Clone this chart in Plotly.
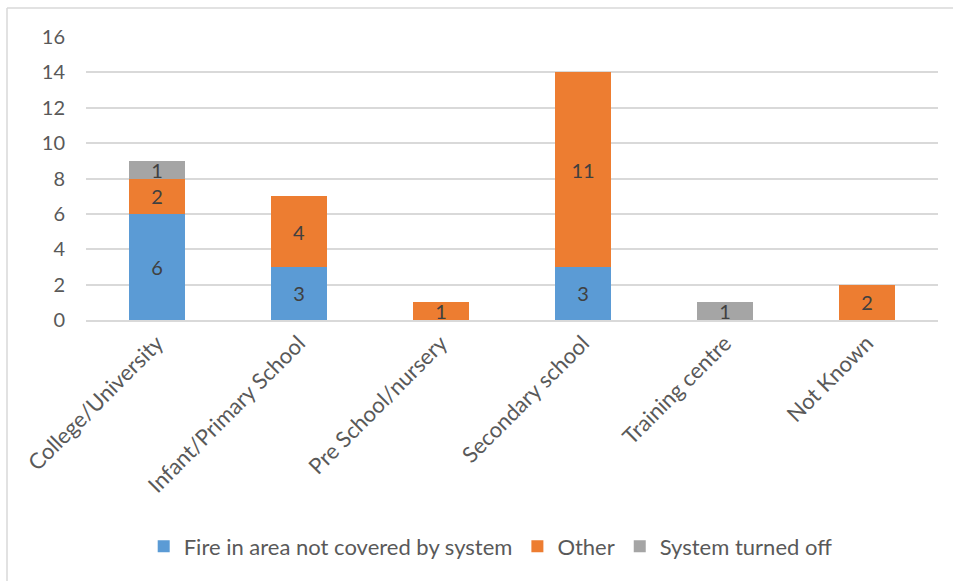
import plotly.graph_objects as go

categories = ["College/University", "Infant/Primary School", "Pre School/nursery",
              "Secondary school", "Training centre", "Not Known"]
fire_not_covered = [6, 3, None, 3, None, None]
other = [2, 4, 1, 11, None, 2]
system_off = [1, None, None, None, 1, None]

series = [
    ("Fire in area not covered by system", fire_not_covered, "#5b9bd5"),
    ("Other", other, "#ed7d31"),
    ("System turned off", system_off, "#a5a5a5"),
]

FONT = "Lato, 'Open Sans', sans-serif"

fig = go.Figure()
for name, vals, color in series:
    fig.add_trace(go.Bar(
        x=categories, y=vals, name=name,
        marker=dict(color=color, line=dict(width=0)),
        text=[str(v) if v is not None else "" for v in vals],
        textposition="inside", insidetextanchor="middle", textangle=0,
        textfont=dict(family=FONT, size=20, color="#404040"),
        hoverinfo="x+y+name",
    ))

fig.update_layout(
    barmode="stack",
    bargap=0.6,
    width=954, height=581,
    margin=dict(l=86, r=16, t=37, b=261),
    paper_bgcolor="white", plot_bgcolor="white",
    font=dict(family=FONT, size=22, color="#595959"),
    uniformtext=dict(minsize=20, mode="show"),
    showlegend=True,
    legend=dict(orientation="h", x=0.475, xanchor="center", y=-0.80, yanchor="middle",
                font=dict(family=FONT, size=22, color="#595959"),
                itemsizing="constant", traceorder="normal"),
    xaxis=dict(tickangle=-45, showgrid=False, showline=True, linecolor="#d9d9d9",
               linewidth=1.5, ticks="", tickfont=dict(size=22, color="#595959")),
    yaxis=dict(range=[0, 16], dtick=2, showgrid=True, gridcolor="#d9d9d9", gridwidth=1.5,
               zeroline=False, showline=False, ticks="", ticklen=0,
               ticklabelstandoff=20,
               tickfont=dict(size=20, color="#595959")),
    shapes=[
        dict(type="line", xref="paper", yref="paper", x0=-79/852, x1=(953-86)/852,
             y0=(320-8)/283, y1=(320-8)/283, line=dict(color="#d9d9d9", width=1.5)),
        dict(type="line", xref="paper", yref="paper", x0=-79/852, x1=-79/852,
             y0=(320-8)/283, y1=(320-585)/283, line=dict(color="#d9d9d9", width=1.5)),
    ],
)

fig.write_html("out.html", post_script="document.body.style.margin='0';",
               config={"displayModeBar": False})
